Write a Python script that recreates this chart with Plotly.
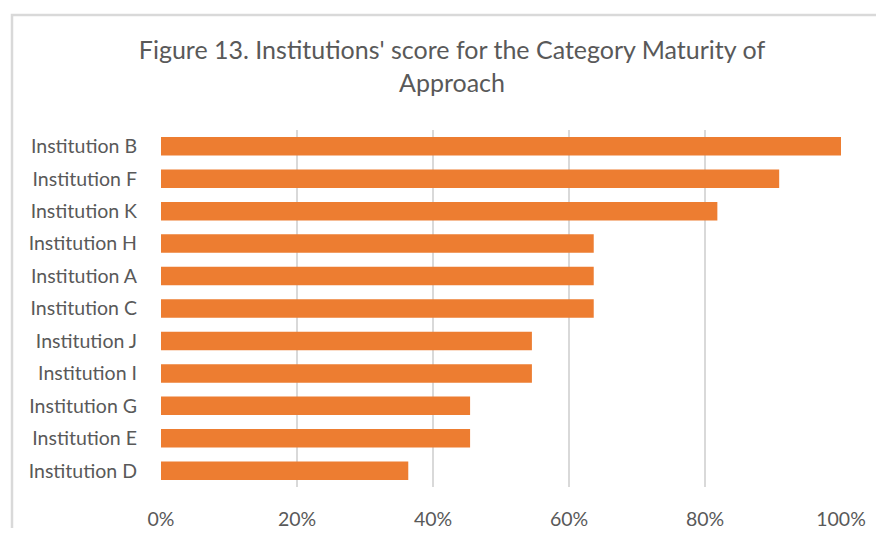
import plotly.graph_objects as go

categories = ["Institution D", "Institution E", "Institution G", "Institution I", "Institution J",
              "Institution C", "Institution A", "Institution H", "Institution K", "Institution F", "Institution B"]
values = [4/11, 5/11, 5/11, 6/11, 6/11, 7/11, 7/11, 7/11, 9/11, 10/11, 1.0]
x_ticks = [0, 0.2, 0.4, 0.6, 0.8, 1.0]
x_tick_labels = ["0%", "20%", "40%", "60%", "80%", "100%"]
title_text = "Figure 13. Institutions' score for the Category Maturity of<br>Approach"

# page body has an 8px default margin; figure sized to fit the window
OFF = 8
W, H = 884 - OFF, 536 - 2 * OFF
L, R, T, B = 161 - OFF, 43, 130 - OFF, (OFF + H) - 487
pw, ph = W - L - R, H - T - B

fig = go.Figure(go.Bar(
    y=categories, x=values, orientation="h",
    marker=dict(color="#ED7D31", line=dict(width=0)),
    width=0.57,
))

font_family = "Lato, 'Open Sans', sans-serif"
fig.update_layout(
    width=W, height=H,
    margin=dict(l=L, r=R, t=T, b=B, autoexpand=False),
    paper_bgcolor="white", plot_bgcolor="white",
    showlegend=False,
    title=dict(text=title_text, x=(452 - OFF) / W, xanchor="center", xref="container",
               y=1 - (59 - OFF) / H, yanchor="middle", yref="container",
               font=dict(family=font_family, size=25, color="#595959")),
    xaxis=dict(range=[0, 1.0], tickvals=x_ticks, ticktext=x_tick_labels,
               showgrid=True, gridcolor="#d9d9d9", gridwidth=1.5,
               zeroline=False, showline=False, ticks="",
               ticklabelstandoff=18, automargin=False,
               tickfont=dict(family=font_family, size=19.5, color="#595959"),
               fixedrange=True),
    yaxis=dict(categoryorder="array", categoryarray=categories,
               showgrid=False, zeroline=False, showline=False, ticks="",
               ticklabelstandoff=23, automargin=False,
               tickfont=dict(family=font_family, size=19.5, color="#595959"),
               fixedrange=True),
)

# chart frame border (screen coords: left 12, top 15, extends past right/bottom)
x0 = (12 - OFF - L) / pw
x1 = (900 - OFF - L) / pw
y1 = 1 + (T - (15 - OFF)) / ph
y0 = -((H + 20) - (T + ph)) / ph
fig.add_shape(type="rect", xref="paper", yref="paper", x0=x0, x1=x1, y0=y0, y1=y1,
              line=dict(color="#d9d9d9", width=2.5), fillcolor="rgba(0,0,0,0)", layer="below")

fig.write_html("out.html")
